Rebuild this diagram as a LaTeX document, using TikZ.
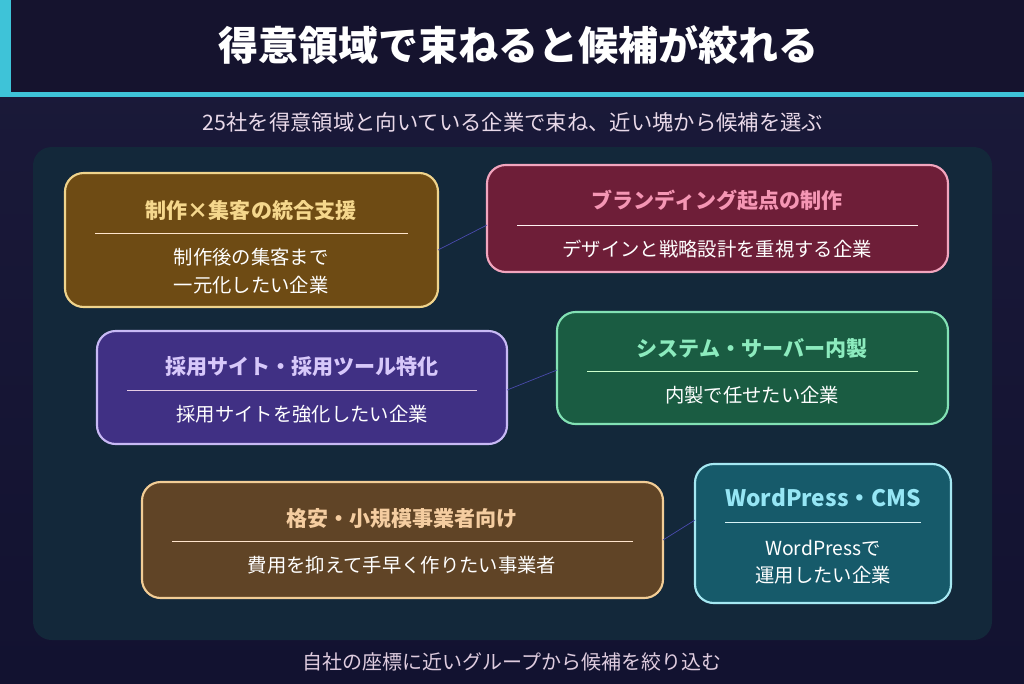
\documentclass[tikz,border=0pt]{standalone}
\usepackage{fontspec}
\setmainfont{Noto Sans CJK JP}
\begin{document}
\begin{tikzpicture}[x=0.75pt,y=-0.75pt,
 card/.style={rounded corners=14pt,line width=1.6pt},
 ttl/.style={font=\bfseries\fontsize{15.8}{18}\selectfont},
 txt/.style={text=white,font=\fontsize{14.5}{20.5}\selectfont,align=center},
 link/.style={draw=gray!60!blue,line width=0.5pt}]
\definecolor{bgA}{HTML}{1B1A3A}
\definecolor{bgB}{HTML}{121230}
\definecolor{head}{HTML}{15132E}
\definecolor{cyan}{HTML}{3EC3D8}
\definecolor{panel}{HTML}{13283A}
\useasboundingbox (0,0) rectangle (1024,683);
\shade[top color=bgA,bottom color=bgB] (0,0) rectangle (1024,683);
\fill[head] (0,0) rectangle (1024,92);
\fill[cyan] (0,0) rectangle (11,92);
\fill[cyan] (0,92) rectangle (1024,97);
\node[text=white,font=\bfseries\fontsize{30}{34}\selectfont] (title) at (518,45) {得意領域で束ねると候補が絞れる};
\node[text=black!15!violet!15!white,font=\fontsize{16}{18}\selectfont] (sub) at (513,122) {25社を得意領域と向いている企業で束ね、近い塊から候補を選ぶ};
\fill[panel,rounded corners=14pt] (33,147) rectangle (992,640);
\node[text=black!25!violet!20!white,font=\fontsize{15}{17}\selectfont] (foot) at (512,662) {自社の座標に近いグループから候補を絞り込む};
% cards
\draw[card,fill={rgb,255:red,110;green,75;blue,20},draw={rgb,255:red,240;green,212;blue,140}] (65,173) rectangle (438,307);
\coordinate (c1r) at (438,250);
\node[ttl,text={rgb,255:red,245;green,215;blue,140}] (t1) at (251,210) {制作×集客の統合支援};
\draw[white!80!orange,line width=0.6pt] (95,233) -- (408,233);
\node[txt] (d1) at (251,271) {制作後の集客まで\\一元化したい企業};

\draw[card,fill={rgb,255:red,110;green,30;blue,56},draw={rgb,255:red,242;green,165;blue,190}] (487,165) rectangle (948,272);
\coordinate (c2l) at (487,225);
\node[ttl,text={rgb,255:red,245;green,150;blue,180}] (t2) at (717,200) {ブランディング起点の制作};
\draw[white!80!pink,line width=0.6pt] (517,225) -- (918,225);
\node[txt] (d2) at (717,249) {デザインと戦略設計を重視する企業};

\draw[card,fill={rgb,255:red,64;green,48;blue,132},draw={rgb,255:red,200;green,185;blue,245}] (97,331) rectangle (507,444);
\coordinate (c3r) at (507,390);
\node[ttl,text={rgb,255:red,215;green,200;blue,250}] (t3) at (302,367) {採用サイト・採用ツール特化};
\draw[white!80!violet,line width=0.6pt] (127,390) -- (477,390);
\node[txt] (d3) at (302,414) {採用サイトを強化したい企業};

\draw[card,fill={rgb,255:red,26;green,92;blue,66},draw={rgb,255:red,130;green,225;blue,180}] (557,312) rectangle (948,424);
\coordinate (c4l) at (557,370);
\node[ttl,text={rgb,255:red,140;green,235;blue,190}] (t4) at (752,348) {システム・サーバー内製};
\draw[white!80!green,line width=0.6pt] (587,371) -- (918,371);
\node[txt] (d4) at (752,395) {内製で任せたい企業};

\draw[card,fill={rgb,255:red,96;green,68;blue,38},draw={rgb,255:red,242;green,205;blue,150}] (142,482) rectangle (663,598);
\coordinate (c5r) at (663,540);
\node[ttl,text={rgb,255:red,245;green,205;blue,160}] (t5) at (402,519) {格安・小規模事業者向け};
\draw[white!80!orange,line width=0.6pt] (172,541) -- (633,541);
\node[txt] (d5) at (402,565) {費用を抑えて手早く作りたい事業者};

\draw[card,fill={rgb,255:red,22;green,90;blue,106},draw={rgb,255:red,165;green,232;blue,242}] (695,464) rectangle (951,603);
\coordinate (c6l) at (695,520);
\node[ttl,text={rgb,255:red,150;green,230;blue,245},font=\bfseries\fontsize{17}{19}\selectfont] (t6) at (823,498) {WordPress・CMS};
\draw[white!80!cyan,line width=0.6pt] (725,522) -- (921,522);
\node[txt] (d6) at (823,562) {WordPressで\\運用したい企業};

\draw[link] (c1r) -- (c2l);
\draw[link] (c3r) -- (c4l);
\draw[link] (c5r) -- (c6l);
\end{tikzpicture}
\end{document}
